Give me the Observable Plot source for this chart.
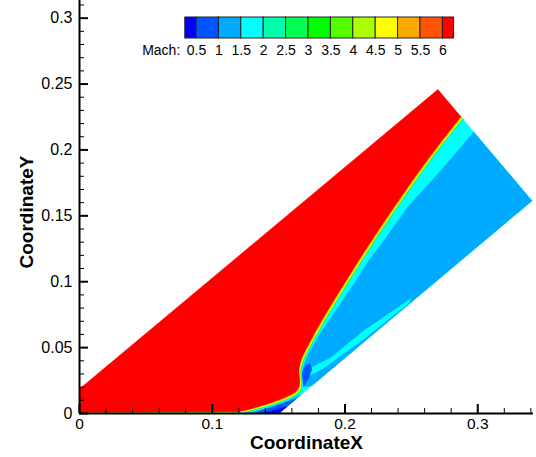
<!DOCTYPE html>
<html><head><meta charset="utf-8">
<script src="https://cdn.jsdelivr.net/npm/d3@7"></script>
<script src="https://cdn.jsdelivr.net/npm/@observablehq/plot@0.6"></script>
<style>
body{margin:0;background:#fff;}
#wrap{position:relative;width:536px;height:457px;}
#wrap svg{position:absolute;left:0;top:0;}
</style></head><body><div id="wrap"></div>
<script>
// ---- colour levels (Mach) ----
const machLevels = [0.5, 1, 1.5, 2, 2.5, 3, 3.5, 4, 4.5, 5, 5.5, 6];
const machColors = ["#0000ff","#0055ff","#00aaff","#00ffff","#00ffaa","#00ff55","#00ff00","#55ff00","#aaff00","#ffff00","#ffaa00","#ff5500","#ff0000"];
const legendEnds = [0.25, 6.25];

// ---- axis ticks ----
const xTickValues = [0, 0.1, 0.2, 0.3];
const xTickLabels = ["0", "0.1", "0.2", "0.3"];
const xMinorTicks = [0.02,0.04,0.06,0.08,0.12,0.14,0.16,0.18,0.22,0.24,0.26,0.28,0.32,0.34];
const yTickValues = [0, 0.05, 0.1, 0.15, 0.2, 0.25, 0.3];
const yTickLabels = ["0", "0.05", "0.1", "0.15", "0.2", "0.25", "0.3"];
const yMinorTicks = [0.01,0.02,0.03,0.04,0.06,0.07,0.08,0.09,0.11,0.12,0.13,0.14,0.16,0.17,0.18,0.19,0.21,0.22,0.23,0.24,0.26,0.27,0.28,0.29,0.31];

// ---- flow-field geometry (CoordinateX, CoordinateY) ----
const freeStreamEdge = [[0,0],[0,0.0186],[0.2700,0.2458]];
const plateEdge = [[0.1205,0.0014],[0.004,0.0009],[0.002,0]];
const separationShock = [[0.1205,0.0014],[0.1235,0.0025],[0.1644,0.0182]];
const shockFront = [[0.1644,0.0182],[0.1649,0.0326],[0.1672,0.0417],[0.1713,0.0501],[0.1825,0.0706],[0.1916,0.0858],[0.2018,0.1024],[0.2201,0.1313],[0.2368,0.1563],[0.2563,0.1844],[0.2732,0.2072],[0.2873,0.2252]];
const outletWall = [[0.3409,0.1615],[0.150,0],[0.120,0]];
const boundaryLayer = [[0.002,0],[0.004,0.0011],[0.1205,0.0017],[0.1225,0]];
const cyanInnerEdge = [[0.2971,0.2136],[0.2722,0.1843],[0.2481,0.1577],[0.2293,0.1311],[0.2179,0.1159],[0.2059,0.0969],[0.1931,0.0779],[0.1802,0.0589],[0.1712,0.0437],[0.1670,0.0308],[0.1659,0.0224],[0.1700,0.0205],[0.1754,0.0215],[0.3409,0.1615]];
const wallStreak = [[0.1667,0.0308],[0.1893,0.0422],[0.2142,0.0627],[0.2496,0.0870],[0.2474,0.0832],[0.2142,0.0566],[0.1840,0.0346],[0.1689,0.0262]];
const vortexCore = [[0.1652,0.0224],[0.1667,0.0300],[0.1704,0.0361],[0.1735,0.0376],[0.1750,0.0338],[0.1727,0.0270],[0.1689,0.0209],[0.1659,0.0194]];
const rampLayer1 = [[0.126,0],[0.1666,0.0140],[0.150,0]];
const rampLayer2 = [[0.131,0],[0.1630,0.0110],[0.150,0]];
const rampLayer3 = [[0.138,0],[0.1558,0.0049],[0.150,0]];

// Mach value of each region
const machFree = 6.5, machPostShock = 1.75, machSubsonic = 1.25, machStreak = 1.75, machCore = 0.75, machRamp1 = 1.25, machRamp2 = 0.75, machRamp3 = 0.25, machBL = 4.25;

const font = "'Liberation Sans', Arial, Helvetica, sans-serif";
const colorScale = {type: "threshold", domain: machLevels, range: machColors};

function region(points, mach) {
  return Plot.line(points, {x: d => d[0], y: d => d[1], fill: () => mach, stroke: () => mach, strokeWidth: 0.6});
}
const redRegion = [...freeStreamEdge, ...shockFront.slice().reverse(), ...plateEdge];
const postShockRegion = [...shockFront, ...outletWall];
const shockLine = [...separationShock.slice(1), ...shockFront.slice(1)];
// shock transition band: smooth stroked curve, offset across the shock
function band(color, w, k) {
  return Plot.line(shockLine, {x: d => d[0], y: d => d[1], stroke: color, strokeWidth: w,
    curve: "catmull-rom", strokeLinecap: "butt", strokeLinejoin: "round", dx: k * 0.75, dy: k * 0.65});
}

const W = 536, H = 457, mL = 79, mR = 3, mT = 0, mB = 44;
const frameW = W - mL - mR, frameH = H - mT - mB;

const main = Plot.plot({
  width: W, height: H, marginLeft: mL, marginRight: mR, marginTop: mT, marginBottom: mB,
  x: {domain: [0, 0.342], axis: null},
  y: {domain: [0, 0.3134], axis: null},
  color: colorScale,
  style: {fontFamily: font, fontSize: "16px", background: "white", color: "black"},
  marks: [
    region(postShockRegion, machPostShock),
    region(cyanInnerEdge, machSubsonic),
    region(rampLayer1, machRamp1),
    region(wallStreak, machStreak),
    region(vortexCore, machCore),
    region(rampLayer2, machRamp2),
    region(rampLayer3, machRamp3),
    region(boundaryLayer, machBL),
    region(redRegion, machFree),
    band(machColors[3], 3, 2.9),
    band(machColors[5], 2, 2.2),
    band(machColors[9], 2, 1.2),
    band(machColors[10], 1.6, 0.4),
    band(machColors[12], 5, -2.5),
    // axes
    Plot.ruleX(xMinorTicks, {x: d => d, insetTop: frameH - 5, strokeWidth: 1, stroke: "black"}),
    Plot.ruleX(xTickValues, {x: d => d, insetTop: frameH - 9, strokeWidth: 2, stroke: "black"}),
    Plot.ruleY(yMinorTicks, {y: d => d, insetRight: frameW - 5, strokeWidth: 1, stroke: "black"}),
    Plot.ruleY(yTickValues, {y: d => d, insetRight: frameW - 9, strokeWidth: 2, stroke: "black"}),
    Plot.ruleX([0], {strokeWidth: 2, stroke: "black"}),
    Plot.ruleY([0], {strokeWidth: 2, stroke: "black"}),
    Plot.text(xTickValues, {x: d => d, text: (d, i) => xTickLabels[i], frameAnchor: "bottom", lineAnchor: "middle", dy: 11, fontSize: 15.5}),
    Plot.text(yTickValues, {y: d => d, text: (d, i) => yTickLabels[i], frameAnchor: "left", lineAnchor: "middle", textAnchor: "end", dx: -7, fontSize: 16}),
    Plot.text(["CoordinateX"], {frameAnchor: "bottom", lineAnchor: "middle", textAnchor: "middle", dy: 29.5, fontSize: 19, fontWeight: "bold"}),
    Plot.text(["CoordinateY"], {frameAnchor: "left", lineAnchor: "middle", textAnchor: "middle", dx: -53, dy: 5, rotate: -90, fontSize: 19, fontWeight: "bold"})
  ]
});

const boxes = machColors.map((c, i) => ({
  lo: i === 0 ? legendEnds[0] : machLevels[i - 1],
  hi: i === machColors.length - 1 ? legendEnds[1] : machLevels[i],
  mach: i === 0 ? legendEnds[0] : machLevels[i - 1] + 0.25
}));

const legend = Plot.plot({
  width: W, height: 60, marginLeft: 0, marginRight: 0, marginTop: 17, marginBottom: 22,
  x: {domain: [0.5, 6], range: [196, 442.4], axis: null},
  color: colorScale,
  style: {fontFamily: font, background: "transparent", color: "black", overflow: "visible"},
  marks: [
    Plot.rect(boxes, {x1: "lo", x2: "hi", fill: "mach", stroke: "#222", strokeWidth: 1}),
    Plot.text(machLevels, {x: d => d, text: d => String(d), frameAnchor: "bottom", lineAnchor: "middle", dy: 12, fontSize: 14}),
    Plot.text(["Mach:"], {x: () => legendEnds[0], frameAnchor: "bottom", lineAnchor: "middle", dy: 12, dx: -5, textAnchor: "end", fontSize: 14})
  ]
});

const wrap = document.getElementById("wrap");
wrap.appendChild(main);
wrap.appendChild(legend);
</script></body></html>
